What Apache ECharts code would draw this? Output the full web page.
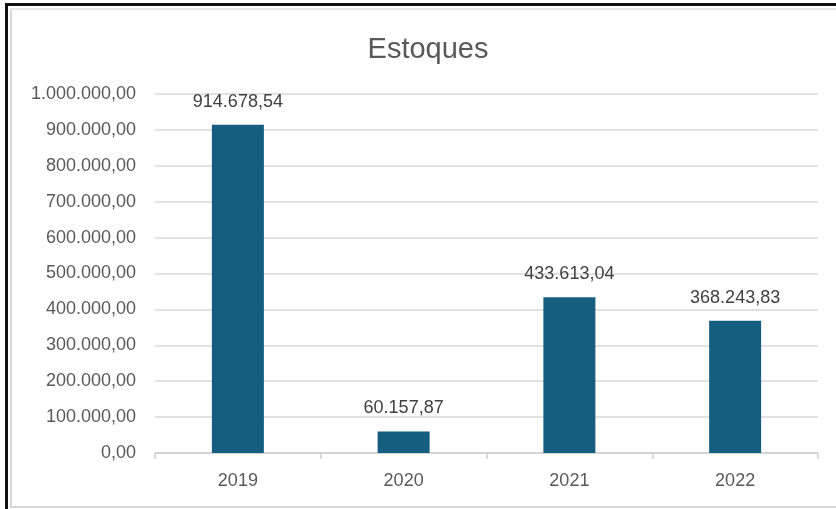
<!DOCTYPE html>
<html>
<head>
<meta charset="utf-8">
<script src="https://cdn.jsdelivr.net/npm/echarts@6/dist/echarts.min.js"></script>
<style>
html,body{margin:0;padding:0;background:#fff;}
#c{width:836px;height:509px;}
</style>
</head>
<body>
<div id="c"></div>
<script>
const titleText = "Estoques";
const categories = ["2019", "2020", "2021", "2022"];
const values = [914678.54, 60157.87, 433613.04, 368243.83];
const yMin = 0, yMax = 1000000, yInterval = 100000;

function fmtBR(v) {
  const parts = Number(v).toFixed(2).split(".");
  const intPart = parts[0].replace(/\B(?=(\d{3})+(?!\d))/g, ".");
  return intPart + "," + parts[1];
}

const chart = echarts.init(document.getElementById("c"), null, {renderer: "canvas"});
const fontFam = "'Liberation Sans', Arial, sans-serif";
chart.setOption({
  backgroundColor: "#ffffff",
  animation: false,
  title: {
    text: titleText,
    left: 423, top: 30, textAlign: "center",
    textStyle: {fontFamily: fontFam, fontSize: 29, fontWeight: "normal", color: "#595959"}
  },
  grid: {left: 155, right: 18, top: 94, bottom: 56, containLabel: false},
  xAxis: {
    type: "category",
    data: categories,
    axisLine: {show: true, lineStyle: {color: "#d0d0d0", width: 1.5}},
    axisTick: {show: true, length: 6, lineStyle: {color: "#d0d0d0", width: 1.5}},
    axisLabel: {fontFamily: fontFam, fontSize: 18, color: "#595959", margin: 19}
  },
  yAxis: {
    type: "value",
    min: yMin, max: yMax, interval: yInterval,
    axisLine: {show: false},
    axisTick: {show: false},
    splitLine: {show: true, lineStyle: {color: "#d9d9d9", width: 1.5}},
    axisLabel: {fontFamily: fontFam, fontSize: 18, color: "#595959", margin: 19, formatter: fmtBR}
  },
  series: [{
    type: "bar",
    data: values,
    barWidth: 52,
    itemStyle: {color: "#165E80"},
    label: {
      show: true, position: "top", distance: 14,
      fontFamily: fontFam, fontSize: 18, color: "#404040",
      formatter: p => fmtBR(p.value)
    }
  }],
  graphic: [
    {type: "rect", shape: {x: 5, y: 3, width: 3, height: 506}, style: {fill: "#111"}, silent: true},
    {type: "rect", shape: {x: 5, y: 3, width: 831, height: 3}, style: {fill: "#111"}, silent: true},
    {type: "rect", shape: {x: 10, y: 8, width: 2, height: 500}, style: {fill: "#d9d9d9"}, silent: true},
    {type: "rect", shape: {x: 10, y: 8, width: 826, height: 2}, style: {fill: "#e6e6e6"}, silent: true},
    {type: "rect", shape: {x: 10, y: 506, width: 826, height: 2}, style: {fill: "#d9d9d9"}, silent: true}
  ]
});
</script>
</body>
</html>
